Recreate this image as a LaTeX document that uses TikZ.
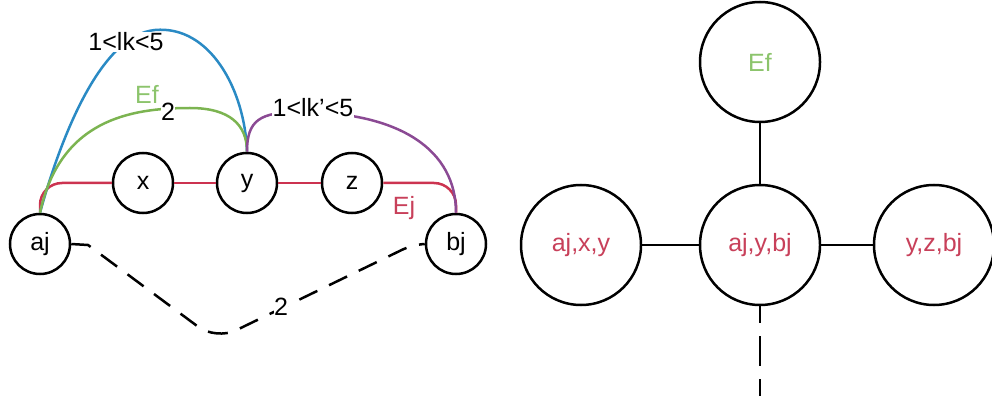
\documentclass[tikz,border=0pt]{standalone}
\usepackage{fontspec}
\setmainfont{Liberation Sans}
\definecolor{cblue}{HTML}{2A8AC4}
\definecolor{cgreen}{HTML}{7CB451}
\definecolor{cgtext}{HTML}{8CC46C}
\definecolor{cred}{HTML}{CC3350}
\definecolor{crtext}{HTML}{C8405A}
\definecolor{cpurple}{HTML}{8B4A94}
\tikzset{
  small/.style={circle,draw=black,line width=2.5pt,minimum size=60pt,inner sep=0pt,fill=white,font=\fontsize{25}{28}\selectfont},
  big/.style={circle,draw=black,line width=2.5pt,minimum size=120pt,inner sep=0pt,fill=white,font=\fontsize{25}{28}\selectfont},
  edge/.style={line width=2.5pt},
  lbl/.style={inner sep=1pt,font=\fontsize{25}{28}\selectfont},
  dashy/.style={line width=2.5pt,dash pattern=on 20pt off 13pt},
}
\begin{document}
\begin{tikzpicture}[x=1pt,y=-1pt]
\useasboundingbox (0,0) rectangle (992,403);
% left graph nodes
\node[small] (aj) at (40,244) {aj};
\node[small] (x) at (143,183) {x};
\node[small] (y) at (247,183) {y};
\node[small] (z) at (352,183) {z};
\node[small] (bj) at (456,244) {bj};
% red chain
\draw[edge,cred,rounded corners=22pt] (aj.north) -- (40,183) -- (x.west);
\draw[edge,cred] (x.east) -- (y.west);
\draw[edge,cred] (y.east) -- (z.west);
\draw[edge,cred,rounded corners=22pt] (z.east) -- (456,183) -- (bj.north);
% blue
\draw[edge,cblue] (aj.north) .. controls (60,140) and (100,35) .. (155,30)
  .. controls (210,25) and (245,90) .. (y.north);
% green
\draw[edge,cgreen] (aj.north) .. controls (60,120) and (130,108) .. (190,108)
  .. controls (230,108) and (247,125) .. (y.north);
% purple
\draw[edge,cpurple] (y.north) .. controls (247,120) and (260,112) .. (300,112)
  .. controls (400,112) and (456,150) .. (bj.north);
% dashed
\draw[dashy] (aj.east) -- (88,245) [rounded corners=22pt] -- (216,340) [rounded corners=10pt] -- (412,245) -- (bj.west);
% labels
\node[lbl,fill=white] (lk) at (126,42) {1<lk<5};
\node[lbl,fill=white] (lk2) at (313,108) {1<lk'<5};
\node[lbl,fill=white,inner sep=0pt] (two) at (168,112) {2};
\node[lbl,cgtext] (ef) at (147,94) {Ef};
\node[lbl,crtext] (ej) at (404,208) {Ej};
\node[lbl,fill=white,inner sep=0pt] (two2) at (281,307) {2};
% right graph
\node[big,text=cgtext] (Ef) at (760,62) {Ef};
\node[big,text=crtext] (ayb) at (760,245) {aj,y,bj};
\node[big,text=crtext] (axy) at (581,245) {aj,x,y};
\node[big,text=crtext] (yzb) at (934,245) {y,z,bj};
\coordinate (dn) at (760,396);
\draw[edge] (Ef) -- (ayb);
\draw[edge] (axy) -- (ayb);
\draw[edge] (ayb) -- (yzb);
\draw[line width=2.5pt,dash pattern=on 30pt off 13pt,dash phase=13pt] (ayb.south) -- (dn);
\end{tikzpicture}
\end{document}
